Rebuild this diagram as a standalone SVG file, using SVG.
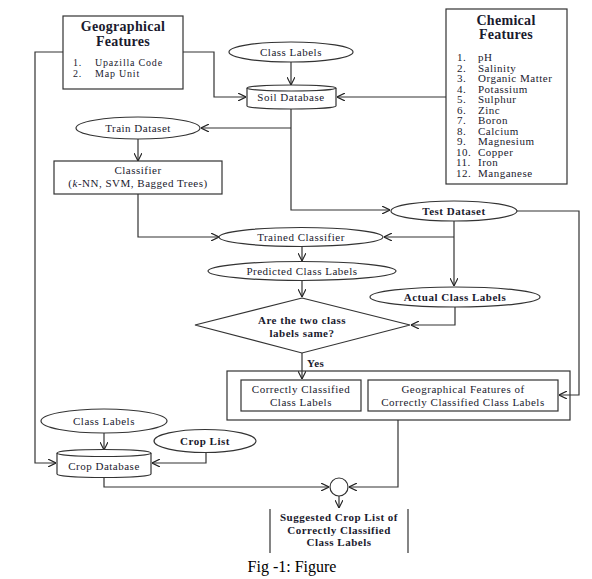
<svg xmlns="http://www.w3.org/2000/svg" width="592" height="579" viewBox="0 0 592 579">
<style>
text{font-family:"Liberation Serif","Times New Roman",serif;font-size:11px;letter-spacing:0.5px;fill:#1a1a2e;text-anchor:middle}
.b{font-weight:bold}
.h{font-weight:bold;font-size:14px;letter-spacing:0.3px}
.l{text-anchor:start}
.s{font-size:10px;letter-spacing:0.8px}
.shape{fill:#fff;stroke:#333;stroke-width:1.2}
.c{fill:none;stroke:#333;stroke-width:1.2}
</style>
<defs>
<marker id="a" viewBox="0 0 10 10" refX="10" refY="5" markerWidth="8" markerHeight="8" orient="auto" markerUnits="userSpaceOnUse">
<path d="M0,0 L10,5 L0,10" fill="none" stroke="#222" stroke-width="1.4"/>
</marker>
</defs>
<rect width="592" height="579" fill="#fff"/>

<g id="connectors" class="c">
<polyline points="183,52 214,52 214,97 246,97" marker-end="url(#a)"/>
<polyline points="63,52 35,52 35,463 56,463" marker-end="url(#a)"/>
<line x1="291" y1="62" x2="291" y2="85" marker-end="url(#a)"/>
<line x1="446" y1="97" x2="337" y2="97" marker-end="url(#a)"/>
<polyline points="291,109 291,210 390,210" marker-end="url(#a)"/>
<line x1="291" y1="128" x2="201" y2="128" marker-end="url(#a)"/>
<line x1="138" y1="139" x2="138" y2="161" marker-end="url(#a)"/>
<polyline points="138,194 138,237 219,237" marker-end="url(#a)"/>
<line x1="454" y1="221" x2="454" y2="286" marker-end="url(#a)"/>
<line x1="454" y1="237" x2="384" y2="237" marker-end="url(#a)"/>
<polyline points="517,211 579,211 579,395 559,395" marker-end="url(#a)"/>
<line x1="302" y1="246" x2="302" y2="261" marker-end="url(#a)"/>
<line x1="302" y1="281" x2="302" y2="297" marker-end="url(#a)"/>
<polyline points="455,307 455,325 411,325" marker-end="url(#a)"/>
<line x1="302" y1="353" x2="302" y2="379" marker-end="url(#a)"/>
<line x1="104" y1="433" x2="104" y2="450" marker-end="url(#a)"/>
<polyline points="206,452 206,463 152,463" marker-end="url(#a)"/>
<polyline points="398,420 398,487 349,487" marker-end="url(#a)"/>
<polyline points="104,477 104,487 329,487" marker-end="url(#a)"/>
<line x1="339" y1="496" x2="339" y2="508" marker-end="url(#a)"/>
</g>

<g id="geo-features">
<rect class="shape" x="63" y="16" width="120" height="73"/>
<text class="h" x="123" y="31">Geographical</text>
<text class="h" x="123" y="46">Features</text>
<text class="l s" x="73" y="66">1.</text><text class="l s" x="95" y="66">Upazilla Code</text>
<text class="l s" x="73" y="77">2.</text><text class="l s" x="95" y="77">Map Unit</text>
</g>

<g id="chem-features">
<rect class="shape" x="446" y="9" width="121" height="175"/>
<text class="h" x="506" y="25">Chemical</text>
<text class="h" x="506" y="39">Features</text>
<text class="l" x="457" y="61">1.</text><text class="l" x="478" y="61">pH</text>
<text class="l" x="457" y="71.5">2.</text><text class="l" x="478" y="71.5">Salinity</text>
<text class="l" x="457" y="82">3.</text><text class="l" x="478" y="82">Organic Matter</text>
<text class="l" x="457" y="92.5">4.</text><text class="l" x="478" y="92.5">Potassium</text>
<text class="l" x="457" y="103">5.</text><text class="l" x="478" y="103">Sulphur</text>
<text class="l" x="457" y="113.5">6.</text><text class="l" x="478" y="113.5">Zinc</text>
<text class="l" x="457" y="124">7.</text><text class="l" x="478" y="124">Boron</text>
<text class="l" x="457" y="134.5">8.</text><text class="l" x="478" y="134.5">Calcium</text>
<text class="l" x="457" y="145">9.</text><text class="l" x="478" y="145">Magnesium</text>
<text class="l" x="456" y="155.5">10.</text><text class="l" x="478" y="155.5">Copper</text>
<text class="l" x="456" y="166">11.</text><text class="l" x="478" y="166">Iron</text>
<text class="l" x="456" y="176.5">12.</text><text class="l" x="478" y="176.5">Manganese</text>
</g>

<g id="class-labels-top">
<ellipse class="shape" cx="291" cy="52" rx="62" ry="10"/>
<text x="291" y="56">Class Labels</text>
</g>

<g id="soil-db">
<path class="shape" d="M247,88 A44.5,3 0 0 1 336,88 V106 A44.5,3 0 0 1 247,106 Z"/>
<path class="c" d="M247,88 A44.5,3 0 0 0 336,88"/>
<text x="291" y="101">Soil Database</text>
</g>

<g id="train-dataset">
<ellipse class="shape" cx="138" cy="128" rx="62" ry="11"/>
<text x="138" y="132">Train Dataset</text>
</g>

<g id="classifier">
<rect class="shape" x="54" y="161" width="168" height="33"/>
<text x="138" y="174">Classifier</text>
<text x="138" y="187">(<tspan font-style="italic">k</tspan>-NN, SVM, Bagged Trees)</text>
</g>

<g id="test-dataset">
<ellipse class="shape" cx="454" cy="211" rx="63" ry="10"/>
<text class="b" x="454" y="215">Test Dataset</text>
</g>

<g id="trained-classifier">
<ellipse class="shape" cx="301" cy="237" rx="82" ry="9.5"/>
<text x="301" y="241">Trained Classifier</text>
</g>

<g id="predicted">
<ellipse class="shape" cx="302" cy="271" rx="94" ry="9.5"/>
<text x="302" y="275">Predicted Class Labels</text>
</g>

<g id="actual">
<ellipse class="shape" cx="455" cy="297" rx="85" ry="10"/>
<text class="b" x="455" y="301">Actual Class Labels</text>
</g>

<g id="decision">
<polygon class="shape" points="302,298 410,325 302,353 195,325"/>
<text class="b" x="302" y="324">Are the two class</text>
<text class="b" x="302" y="337">labels same?</text>
<text class="b l" x="307" y="367">Yes</text>
</g>

<g id="result-group">
<rect class="c" x="227" y="371" width="343" height="49"/>
</g>

<g id="correct-labels">
<rect class="shape" x="241" y="380" width="120" height="31"/>
<text x="301" y="393">Correctly Classified</text>
<text x="301" y="406">Class Labels</text>
</g>

<g id="geo-correct">
<rect class="shape" x="368" y="380" width="190" height="31"/>
<text x="463" y="393">Geographical Features of</text>
<text x="463" y="406">Correctly Classified Class Labels</text>
</g>

<g id="class-labels-bottom">
<ellipse class="shape" cx="104" cy="421" rx="63" ry="12"/>
<text x="104" y="425">Class Labels</text>
</g>

<g id="crop-list">
<ellipse class="shape" cx="205" cy="441" rx="51" ry="11.5"/>
<text class="b" x="205" y="445">Crop List</text>
</g>

<g id="crop-db">
<path class="shape" d="M57,453 A47,3.5 0 0 1 151,453 V474 A47,3.5 0 0 1 57,474 Z"/>
<path class="c" d="M57,453 A47,3.5 0 0 0 151,453"/>
<text x="104" y="470">Crop Database</text>
</g>

<g id="join">
<circle class="shape" cx="339" cy="487" r="9"/>
</g>

<g id="suggested">
<line class="c" x1="270" y1="509" x2="270" y2="553"/>
<line class="c" x1="408" y1="509" x2="408" y2="553"/>
<text class="b" x="339" y="521">Suggested Crop List of</text>
<text class="b" x="339" y="534">Correctly Classified</text>
<text class="b" x="339" y="546">Class Labels</text>
</g>

<text x="292" y="572" style="font-size:16px;letter-spacing:0;fill:#000">Fig -1: Figure</text>
</svg>
